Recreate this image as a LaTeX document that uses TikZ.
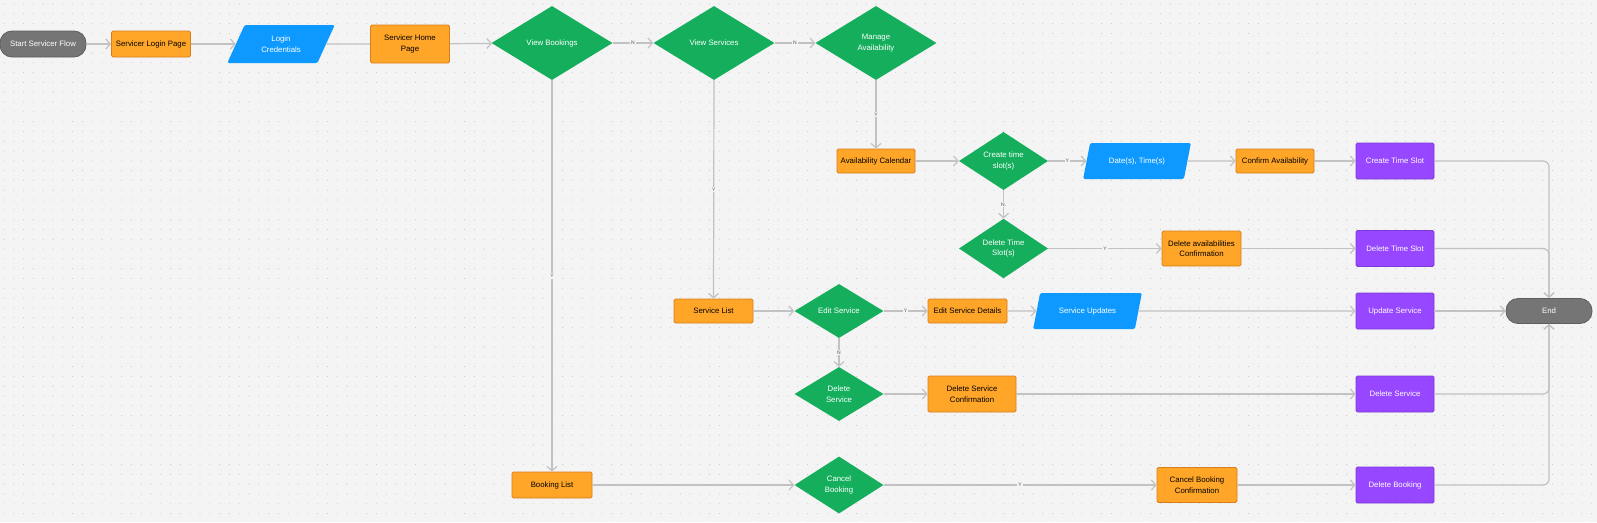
\documentclass[tikz,border=0pt]{standalone}
\usepackage{fontspec}
\setmainfont{Liberation Sans}
\usetikzlibrary{shapes.geometric,arrows.meta}
\definecolor{bgc}{HTML}{F4F4F4}
\definecolor{dotc}{HTML}{C9C9C9}
\definecolor{connc}{HTML}{C2C2C2}
\definecolor{labc}{HTML}{555555}
\definecolor{orangefill}{HTML}{FFA629}
\definecolor{orangeline}{HTML}{D97E1C}
\definecolor{purplefill}{HTML}{9747FF}
\definecolor{purpleline}{HTML}{7D3AD9}
\definecolor{greenfill}{HTML}{14AE5C}
\definecolor{bluefill}{HTML}{0D99FF}
\definecolor{grayfill}{HTML}{757575}
\definecolor{grayline}{HTML}{5E5E5E}
\begin{document}
\begin{tikzpicture}[x=1pt,y=-1pt,font=\fontsize{7.8}{10.5}\selectfont,
            box/.style={draw=orangeline,fill=orangefill,line width=0.8pt,rounded corners=1.5pt,minimum width=79pt,minimum height=24pt,inner sep=0pt,align=center},
            act/.style={draw=purpleline,fill=purplefill,line width=0.8pt,text=white,rounded corners=1.5pt,minimum width=78pt,minimum height=36pt,inner sep=0pt},
            dec/.style={diamond,fill=greenfill,text=white,align=center,inner sep=0pt,minimum width=89pt,minimum height=54pt},
            io/.style={trapezium,trapezium left angle=60,trapezium right angle=120,trapezium stretches=true,fill=bluefill,text=white,rounded corners=1.5pt,align=center,inner sep=0pt,minimum width=108pt,minimum height=36pt},
            term/.style={draw=grayline,fill=grayfill,line width=0.8pt,text=white,rounded corners=12pt,minimum width=86pt,minimum height=26pt},
            conn/.style={draw=connc,line width=1.2pt,-{Straight Barb[length=4.5pt,width=10pt]}},
            lbl/.style={fill=bgc,text=labc,font=\fontsize{5}{6}\selectfont,inner sep=1pt}]
            \useasboundingbox (0,0) rectangle (1597,522);
            \fill[bgc] (0,0) rectangle (1597,522);
            \foreach \r in {0,...,53}
                \draw[dotc,line width=1.1pt,line cap=round,dash pattern=on 0pt off 9.8pt] (4,4+\r*9.8) -- (1597,4+\r*9.8);
        %
            \node[term] (start) at (43,44) {Start Servicer Flow};
            \node[box,minimum height=26pt] (login) at (151,44) {Servicer Login Page};
            \node[io,minimum height=38pt] (cred) at (281,44) {Login\\Credentials};
            \node[box,minimum height=38pt] (home) at (410,44) {Servicer Home\\Page};
            \node[dec,minimum width=121pt,minimum height=74pt] (vbook) at (552,43) {View Bookings};
            \node[dec,minimum width=121pt,minimum height=74pt] (vserv) at (714,43) {View Services};
            \node[dec,minimum width=121pt,minimum height=74pt] (mavail) at (876,43) {Manage\\Availability};
        %
            \node[box,minimum width=78pt] (acal) at (876,161) {Availability Calendar};
            \node[dec] (create) at (1003.5,161) {Create time\\slot(s)};
            \node[io] (dates) at (1137,161) {Date(s), Time(s)};
            \node[box,minimum width=78pt] (confirm) at (1275,161) {Confirm Availability};
            \node[act] (cslot) at (1395,161) {Create Time Slot};
            \node[dec] (dslots) at (1003.5,248.5) {Delete Time\\Slot(s)};
            \node[box,minimum height=35pt] (dconf) at (1201.5,248.5) {Delete availabilities\\Confirmation};
            \node[act] (dslot) at (1395,248.5) {Delete Time Slot};
        %
            \node[box] (slist) at (713.5,311) {Service List};
            \node[dec] (edit) at (839,311) {Edit Service};
            \node[box] (edetails) at (967.5,311) {Edit Service Details};
            \node[io,minimum width=109pt] (supd) at (1087.5,311) {Service Updates};
            \node[act] (upd) at (1395,311) {Update Service};
            \node[term,minimum height=25pt] (end) at (1549,311) {End};
            \node[dec] (dserv) at (839,394) {Delete\\Service};
            \node[box,minimum width=88pt,minimum height=36pt] (dsconf) at (972,394) {Delete Service\\Confirmation};
            \node[act] (delserv) at (1395,394) {Delete Service};
        %
            \node[box,minimum width=80pt,minimum height=26pt] (blist) at (552,485) {Booking List};
            \node[dec,minimum height=57pt] (cancel) at (839,485) {Cancel\\Booking};
            \node[box,minimum width=80pt,minimum height=35pt] (cconf) at (1197,485) {Cancel Booking\\Confirmation};
            \node[act] (dbook) at (1395,485) {Delete Booking};
        %
            \draw[conn] (start) -- (login);
            \draw[conn] (login) -- (cred);
            \draw[conn,-] (cred) -- (home);
            \draw[conn] (home) -- (vbook);
            \draw[conn] (vbook) -- node[lbl]{N} (vserv);
            \draw[conn] (vserv) -- node[lbl]{N} (mavail);
            \draw[conn] (vbook.south) -- node[lbl]{Y} (blist.north);
            \draw[conn] (vserv.south) -- node[lbl]{Y} (slist.north);
            \draw[conn] (mavail.south) -- node[lbl]{Y} (acal.north);
            \draw[conn] (acal) -- (create);
            \draw[conn] (create) -- node[lbl]{Y} (dates);
            \draw[conn] (dates) -- (confirm);
            \draw[conn] (confirm) -- (cslot);
            \draw[conn] (create) -- node[lbl]{N.} (dslots);
            \draw[conn] (dslots) -- node[lbl]{Y} (dconf);
            \draw[conn] (dconf) -- (dslot);
            \draw[conn] (slist) -- (edit);
            \draw[conn] (edit) -- node[lbl]{Y} (edetails);
            \draw[conn] (edetails) -- (supd);
            \draw[conn] (supd) -- (upd);
            \draw[conn] (edit) -- node[lbl]{N} (dserv);
            \draw[conn] (dserv) -- (dsconf);
            \draw[conn] (dsconf) -- (delserv);
            \draw[conn] (blist) -- (cancel);
            \draw[conn] (cancel) -- node[lbl]{Y} (cconf);
            \draw[conn] (cconf) -- (dbook);
            \draw[conn,rounded corners=6pt] (cslot.east) -| (end.north);
            \draw[conn,rounded corners=6pt] (dslot.east) -| (end.north);
            \draw[conn] (upd) -- (end);
            \draw[conn,rounded corners=6pt] (delserv.east) -| (end.south);
            \draw[conn,rounded corners=6pt] (dbook.east) -| (end.south);
        \end{tikzpicture}
\end{document}
